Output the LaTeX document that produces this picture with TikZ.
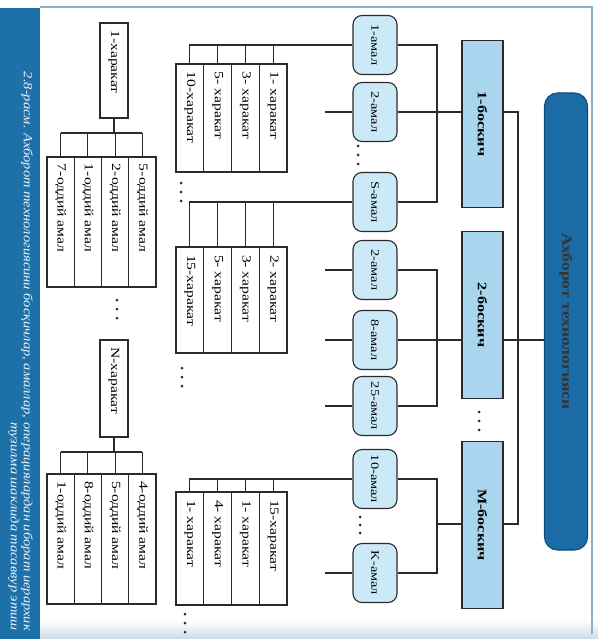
\documentclass[tikz,border=0pt]{standalone}
\usepackage{fontspec}
\setmainfont{Liberation Serif}
\usepackage{graphicx}
% text running top to bottom, stretched along its line
\newcommand{\vtxt}[1]{\rotatebox{-90}{\scalebox{1.25}[1]{#1}}}
% same, but pushed to the upper end of a box of the given length
\newcommand{\vupper}[2]{\rotatebox{-90}{\makebox[#1][l]{\scalebox{1.25}[1]{#2}}}}
\definecolor{capblue}{HTML}{1E70A8}
\definecolor{barblue}{HTML}{1B6CA6}
\definecolor{bardark}{HTML}{0F4C7C}
\definecolor{stagefill}{HTML}{A9D6EE}
\definecolor{amalfill}{HTML}{CBE9F7}
\definecolor{framec}{HTML}{8EB0C6}
\definecolor{inkc}{HTML}{2A2A2A}
\tikzset{
  wire/.style={draw=inkc, line width=1.05pt},
  topbar/.style={draw=bardark, fill=barblue, line width=1.1pt, rounded corners=13pt,
    inner sep=0pt, minimum width=43pt, minimum height=457pt,
    font=\bfseries\fontsize{14}{14}\selectfont, text=black!80},
  stagebox/.style={draw=inkc, fill=stagefill, line width=1.1pt, inner sep=0pt,
    minimum width=41pt, minimum height=167pt, font=\bfseries\fontsize{13}{13}\selectfont},
  amalbox/.style={draw=inkc, fill=amalfill, line width=1.1pt, rounded corners=9pt,
    inner sep=0pt, minimum width=44pt, minimum height=59pt, font=\fontsize{11.5}{11.5}\selectfont},
  actbox/.style={draw=inkc, fill=white, line width=1.1pt, inner sep=0pt,
    minimum width=27.75pt, font=\fontsize{12.5}{12.5}\selectfont},
  headbox/.style={draw=inkc, fill=white, line width=1.1pt, inner sep=0pt,
    minimum width=28pt, font=\fontsize{12.5}{12.5}\selectfont},
  opbox/.style={draw=inkc, fill=white, line width=1.1pt, inner sep=0pt,
    minimum width=27.25pt, minimum height=130pt, font=\fontsize{12.5}{12.5}\selectfont},
  dot/.style={fill=inkc}
}
\begin{document}
\begin{tikzpicture}[x=1pt,y=-1pt]
\useasboundingbox (0,0) rectangle (598,639);
\fill[white] (0,0) rectangle (598,639);
% soft band along the lower edge
\shade[top color=white, bottom color=framec!45] (40,620) rectangle (598,639);
% frame and caption strip
\draw[framec, line width=1.4pt] (40,7) -- (592,7) -- (592,634);
\fill[capblue] (0,8) rectangle (40,639);
\node[anchor=south, inner sep=0pt, text=white!92!capblue,
      font=\itshape\fontsize{12.5}{13}\selectfont] (cap) at (20,631)
  {\rotatebox{-90}{\scalebox{1.16}[1]{\begin{tabular}{@{}r@{}}
   2.8-расм. Ахборот технологиясини босқичлар, амаллар, операциялардан иборат иерархик\\
   тузилма шаклида тасаввур этиш\end{tabular}}}};

% top level
\node[topbar] (it) at (566,321.5) {\vtxt{Ахборот технологияси}};

% stages
\node[stagebox] (s1) at (482.5,124) {\vtxt{1-боскич}};
\node[stagebox] (s2) at (482.5,315) {\vtxt{2-боскич}};
\node[stagebox] (sM) at (482.5,525) {\vtxt{М-боскич}};
\foreach \yy in {412,421,430} \fill[dot] (479,\yy) circle (1.5pt);

\coordinate (t1) at (518,112);
\coordinate (t2) at (518,340);
\coordinate (tM) at (518,524);
\draw[wire] (it.west |- t2) -- (s2.east |- t2);
\draw[wire] (s1.east |- t1) -- (t1) -- (tM) -- (sM.east |- tM);

% operations
\node[amalbox] (a11)  at (375,45)  {\vtxt{1-амал}};
\node[amalbox] (a12)  at (375,112) {\vtxt{2-амал}};
\node[amalbox] (a1S)  at (375,202) {\vtxt{S-амал}};
\node[amalbox] (a22)  at (375,270) {\vtxt{2-амал}};
\node[amalbox] (a28)  at (375,340) {\vtxt{8-амал}};
\node[amalbox] (a225) at (375,406) {\vtxt{25-амал}};
\node[amalbox] (aM10) at (375,479) {\vtxt{10-амал}};
\node[amalbox] (aMK)  at (375,573) {\vtxt{K-амал}};
\foreach \yy in {146,155,164} \fill[dot] (358,\yy) circle (1.5pt);
\foreach \yy in {517,525,533} \fill[dot] (360,\yy) circle (1.5pt);

\coordinate (b1) at (437,0);
\coordinate (stubx) at (325,0);
\draw[wire] (a11.east) -- (a11.east -| b1) -- (a1S.east -| b1) -- (a1S.east);
\draw[wire] (a12.east) -- (s1.west |- a12.east);
\draw[wire] (a22.east) -- (a22.east -| b1) -- (a225.east -| b1) -- (a225.east);
\draw[wire] (a28.east) -- (s2.west |- a28.east);
\draw[wire] (aM10.east) -- (aM10.east -| b1) -- (aMK.east -| b1) -- (aMK.east);
\draw[wire] (b1 |- tM) -- (sM.west |- tM);
\foreach \n in {a12,a22,a28,a225,aMK} \draw[wire] (\n.west) -- (\n.west -| stubx);

% actions under 1-amal
\begin{scope}[every node/.append style={minimum height=108pt}]
\node[actbox] (g1a) at (189.9,118) {\vupper{92pt}{10-харакат}};
\node[actbox] (g1b) at (217.6,118) {\vupper{92pt}{5- харакат}};
\node[actbox] (g1c) at (245.4,118) {\vupper{92pt}{3- харакат}};
\node[actbox] (g1d) at (273.1,118) {\vupper{92pt}{1- харакат}};
\end{scope}
\draw[wire] (a11.west) -- (g1a.north |- a11.west) -- (g1a.north);
\foreach \n in {g1b,g1c,g1d} \draw[wire] (\n.north |- a11.west) -- (\n.north);
\foreach \yy in {183,192,201} \fill[dot] (181,\yy) circle (1.5pt);

% actions under S-amal
\begin{scope}[every node/.append style={minimum height=106pt}]
\node[actbox] (g2a) at (189.9,300) {\vupper{90pt}{15-харакат}};
\node[actbox] (g2b) at (217.6,300) {\vupper{90pt}{5- харакат}};
\node[actbox] (g2c) at (245.4,300) {\vupper{90pt}{3- харакат}};
\node[actbox] (g2d) at (273.1,300) {\vupper{90pt}{2- харакат}};
\end{scope}
\draw[wire] (a1S.west) -- (g2a.north |- a1S.west) -- (g2a.north);
\foreach \n in {g2b,g2c,g2d} \draw[wire] (\n.north |- a1S.west) -- (\n.north);
\foreach \yy in {368,377,386} \fill[dot] (182,\yy) circle (1.5pt);

% actions under 10-amal
\begin{scope}[every node/.append style={minimum height=113pt}]
\node[actbox] (g3a) at (189.9,548.5) {\vupper{97pt}{1- харакат}};
\node[actbox] (g3b) at (217.6,548.5) {\vupper{97pt}{4- харакат}};
\node[actbox] (g3c) at (245.4,548.5) {\vupper{97pt}{1- харакат}};
\node[actbox] (g3d) at (273.1,548.5) {\vupper{97pt}{15-харакат}};
\end{scope}
\draw[wire] (aM10.west) -- (g3a.north |- aM10.west) -- (g3a.north);
\foreach \n in {g3b,g3c,g3d} \draw[wire] (\n.north |- aM10.west) -- (\n.north);
\foreach \yy in {614,623,632} \fill[dot] (185,\yy) circle (1.5pt);

% 1-harakat broken into simple operations
\node[headbox, minimum height=95pt] (hA) at (114,70.5) {\vupper{80pt}{1-харакат}};
\node[opbox] (oa1) at (60.6,222)  {\vupper{116pt}{7-оддий амал}};
\node[opbox] (oa2) at (87.9,222)  {\vupper{116pt}{1-оддий амал}};
\node[opbox] (oa3) at (115.1,222) {\vupper{116pt}{2-оддий амал}};
\node[opbox] (oa4) at (142.4,222) {\vupper{116pt}{5-оддий амал}};
\coordinate (busA) at (115,133);
\draw[wire] (hA.south) -- (hA.south |- busA);
\draw[wire] (oa1.north |- busA) -- (oa4.north |- busA);
\foreach \n in {oa1,oa2,oa3,oa4} \draw[wire] (\n.north |- busA) -- (\n.north);
\foreach \yy in {300,309,318} \fill[dot] (117,\yy) circle (1.5pt);

% N-harakat broken into simple operations
\node[headbox, minimum height=97pt] (hB) at (114,388.5) {\vupper{82pt}{N-харакат}};
\node[opbox] (ob1) at (60.6,539)  {\vupper{116pt}{1-оддий амал}};
\node[opbox] (ob2) at (87.9,539)  {\vupper{116pt}{8-оддий амал}};
\node[opbox] (ob3) at (115.1,539) {\vupper{116pt}{5-оддий амал}};
\node[opbox] (ob4) at (142.4,539) {\vupper{116pt}{4-оддий амал}};
\coordinate (busB) at (115,452);
\draw[wire] (hB.south) -- (hB.south |- busB);
\draw[wire] (ob1.north |- busB) -- (ob4.north |- busB);
\foreach \n in {ob1,ob2,ob3,ob4} \draw[wire] (\n.north |- busB) -- (\n.north);
\end{tikzpicture}
\end{document}
